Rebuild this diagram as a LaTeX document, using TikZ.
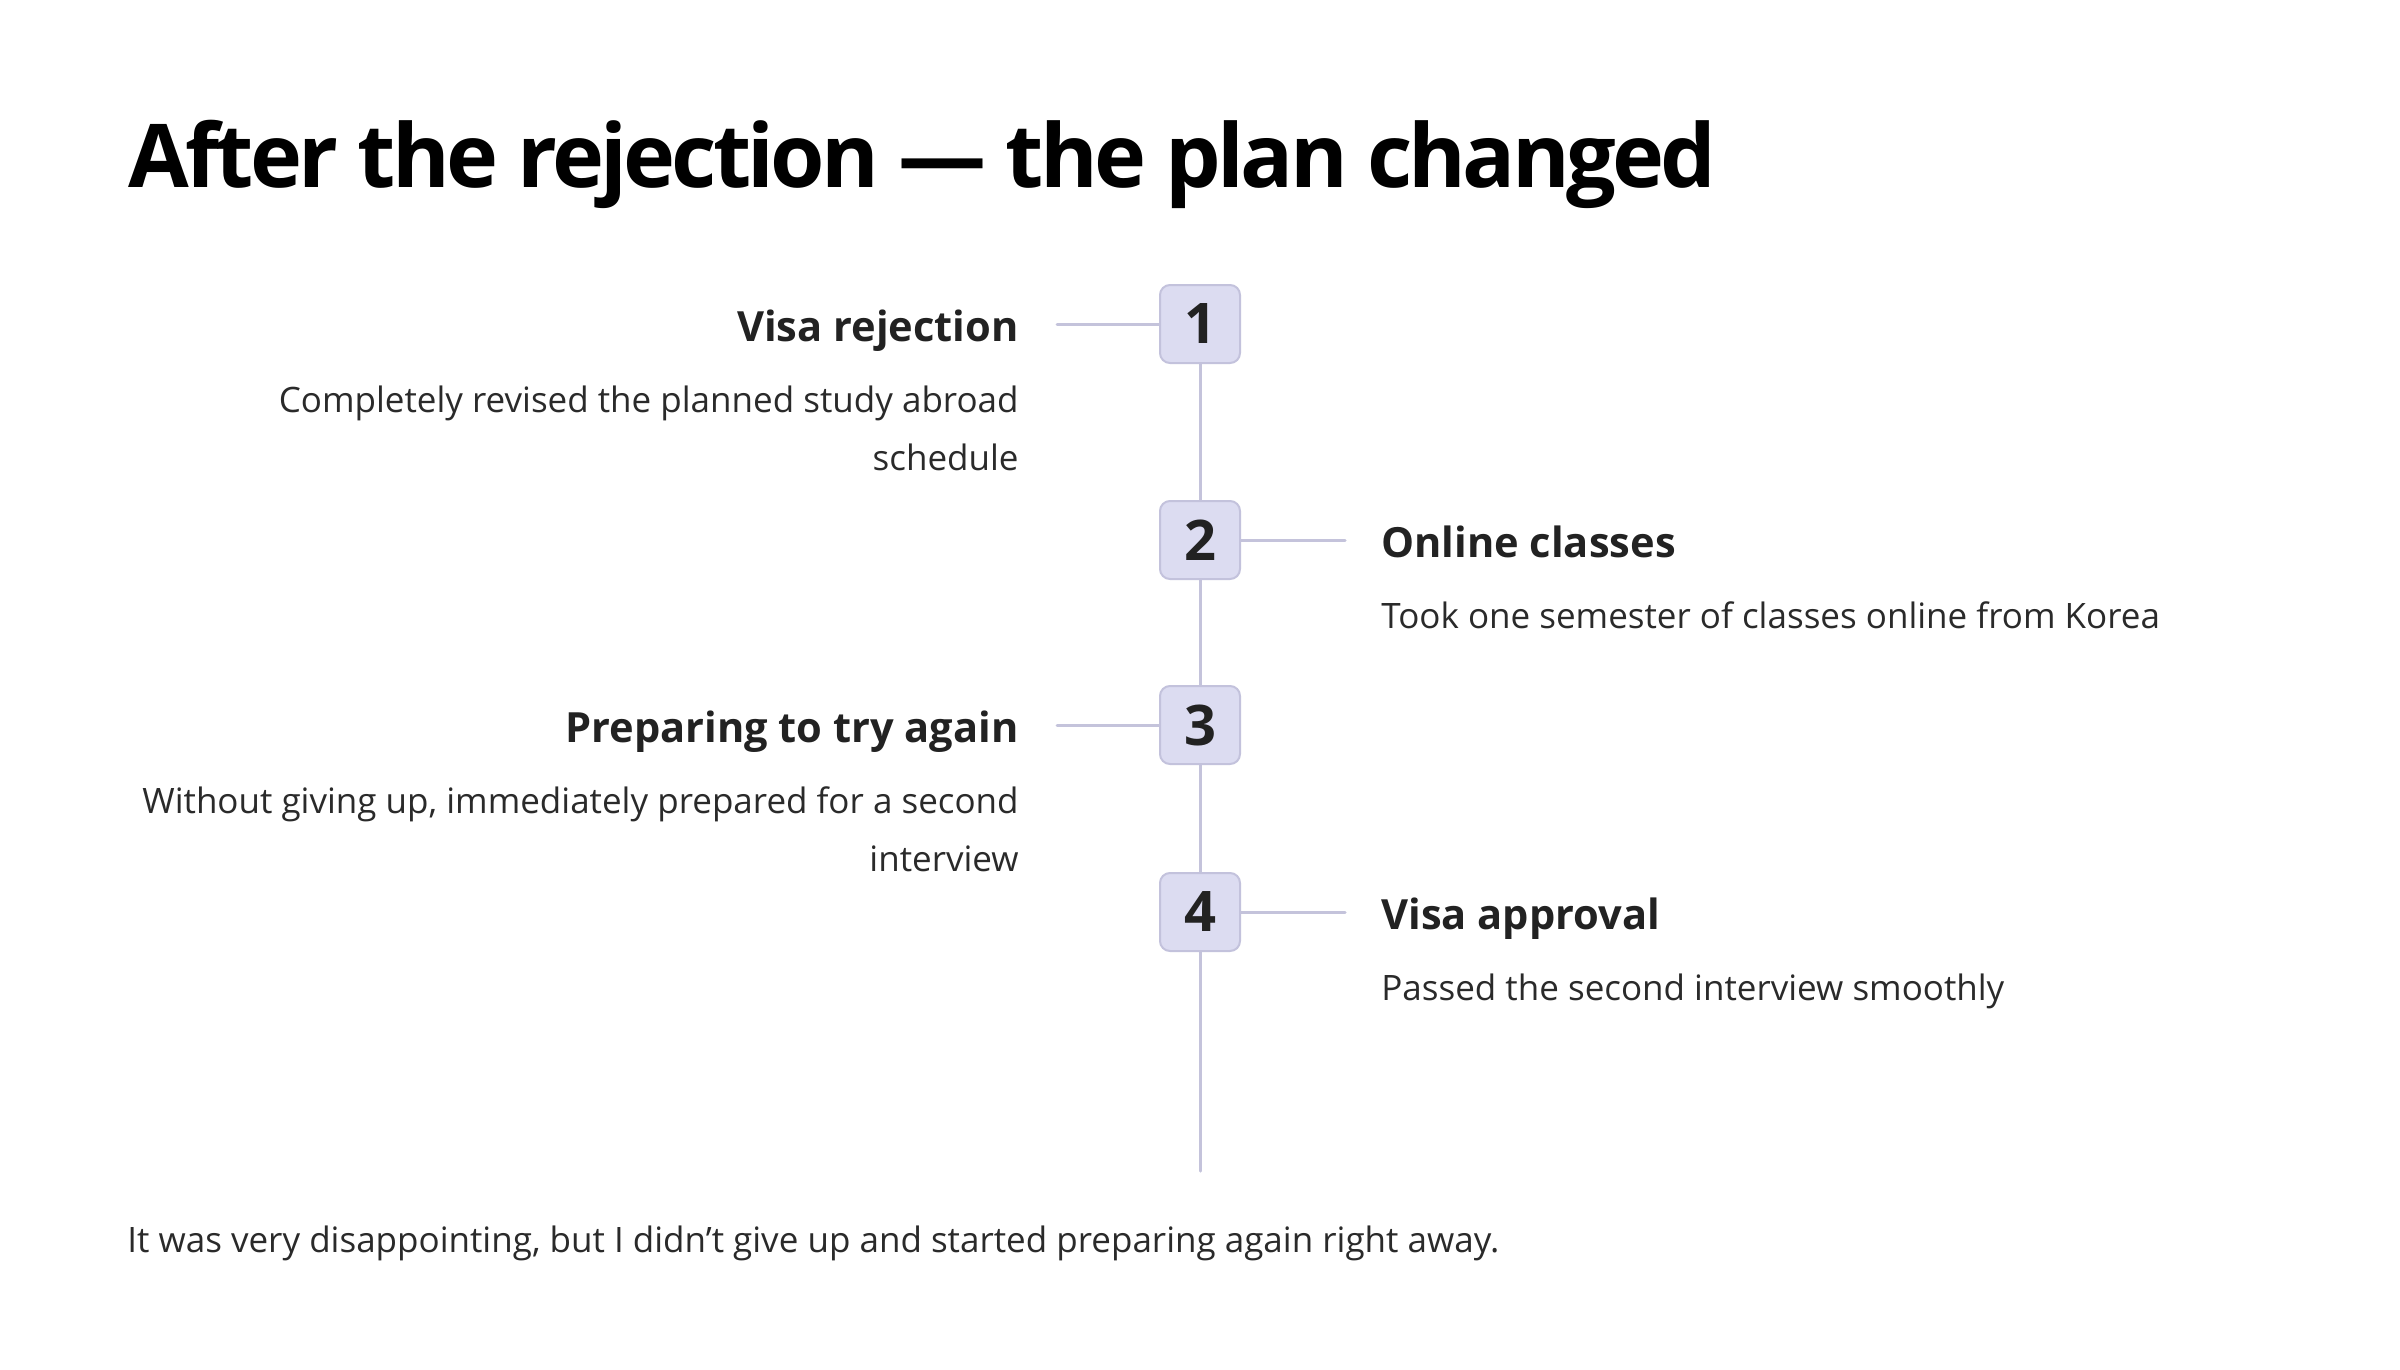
\documentclass[tikz,border=0pt]{standalone}
\usepackage{fontspec}
\setmainfont{Open Sans}
\definecolor{linec}{HTML}{C4C3DB}
\definecolor{boxfill}{HTML}{DCDCF1}
\definecolor{boxdraw}{HTML}{C3C2DC}
\definecolor{headc}{HTML}{222222}
\definecolor{bodyc}{HTML}{2A2A2A}
\tikzset{
  titlestyle/.style={anchor=base west, inner sep=0pt, text=black, font=\fontsize{44}{52}\selectfont\bfseries\addfontfeature{LetterSpace=-4.2}},
  numbox/.style={draw=boxdraw, fill=boxfill, line width=1pt, rounded corners=5pt, minimum width=40pt, minimum height=39pt, inner sep=0pt, text=headc, font=\fontsize{28}{32}\selectfont\bfseries},
  headl/.style={anchor=base east, inner sep=0pt, text=headc, font=\fontsize{20.8}{26}\selectfont\bfseries},
  headr/.style={anchor=base west, inner sep=0pt, text=headc, font=\fontsize{20.8}{26}\selectfont\bfseries},
  bodyl/.style={anchor=base east, inner sep=0pt, text=bodyc, font=\fontsize{17.5}{21}\selectfont},
  bodyr/.style={anchor=base west, inner sep=0pt, text=bodyc, font=\fontsize{17.5}{21}\selectfont},
  conn/.style={draw=linec, line width=1.5pt, line cap=round}
}
\begin{document}
\begin{tikzpicture}[x=0.5pt,y=-0.5pt]
\useasboundingbox (0,0) rectangle (2400,1370);
\fill[white] (0,0) rectangle (2400,1370);
\node[titlestyle] (title) at (128,188) {After the rejection — the plan changed};

% connectors first (behind boxes)
\coordinate (b1c) at (1200,324);
\coordinate (b2c) at (1200,540);
\coordinate (b3c) at (1200,725);
\coordinate (b4c) at (1200,912);
\coordinate (tend) at (1200,1171);
\coordinate (l1) at (1057,324);
\coordinate (r2) at (1345,540);
\coordinate (l3) at (1057,725);
\coordinate (r4) at (1345,912);
\draw[conn] (b1c) -- (b2c) -- (b3c) -- (b4c) -- (tend);
\draw[conn] (l1) -- (b1c);
\draw[conn] (b2c) -- (r2);
\draw[conn] (l3) -- (b3c);
\draw[conn] (b4c) -- (r4);

\node[numbox] (b1) at (b1c) {1};
\node[numbox] (b2) at (b2c) {2};
\node[numbox] (b3) at (b3c) {3};
\node[numbox] (b4) at (b4c) {4};

\node[headl] (h1) at (1019,341) {Visa rejection};
\node[bodyl] (d1a) at (1019,412) {Completely revised the planned study abroad};
\node[bodyl] (d1b) at (1019,470) {schedule};

\node[headr] (h2) at (1381,557) {Online classes};
\node[bodyr] (d2a) at (1381,628) {Took one semester of classes online from Korea};

\node[headl] (h3) at (1019,742) {Preparing to try again};
\node[bodyl] (d3a) at (1019,813) {Without giving up, immediately prepared for a second};
\node[bodyl] (d3b) at (1019,871) {interview};

\node[headr] (h4) at (1381,929) {Visa approval};
\node[bodyr] (d4a) at (1381,1000) {Passed the second interview smoothly};

\node[bodyr] (foot) at (127,1252) {It was very disappointing, but I didn’t give up and started preparing again right away.};
\end{tikzpicture}
\end{document}
